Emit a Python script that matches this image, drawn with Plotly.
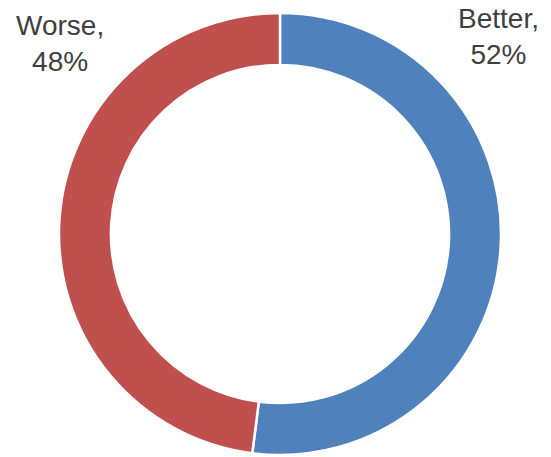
import plotly.graph_objects as go

categories = ["Better", "Worse"]
shares = [52, 48]
colors = ["#4F81BD", "#C0504D"]

W, H = 551, 457
ML, MR, MT, MB = 59, 50, 13, 2
PW, PH = W - ML - MR, H - MT - MB


def to_paper(px, py):
    """Convert pixel position on the page into paper coordinates."""
    return (px - ML) / PW, (H - MB - py) / PH


fig = go.Figure(
    go.Pie(
        labels=categories,
        values=shares,
        hole=0.765,
        sort=False,
        direction="clockwise",
        rotation=0,
        marker=dict(colors=colors, line=dict(color="white", width=2.5)),
        textinfo="none",
        hoverinfo="label+percent",
        showlegend=False,
        domain=dict(x=[0, 1], y=[0, 1]),
    )
)

label_font = dict(family="Liberation Sans, Arial, sans-serif", size=28, color="#404040")
label_pos = [(498, 36), (60, 44)]

annotations = []
for cat, share, (px, py) in zip(categories, shares, label_pos):
    x, y = to_paper(px, py)
    annotations.append(
        dict(
            x=x, y=y, xref="paper", yref="paper",
            text=f"{cat},<br>{share}%", showarrow=False,
            font=label_font, align="center", xanchor="center", yanchor="middle",
        )
    )

fig.update_layout(
    width=W,
    height=H,
    margin=dict(l=ML, r=MR, t=MT, b=MB),
    paper_bgcolor="white",
    plot_bgcolor="white",
    annotations=annotations,
)

fig.write_html("out.html")
